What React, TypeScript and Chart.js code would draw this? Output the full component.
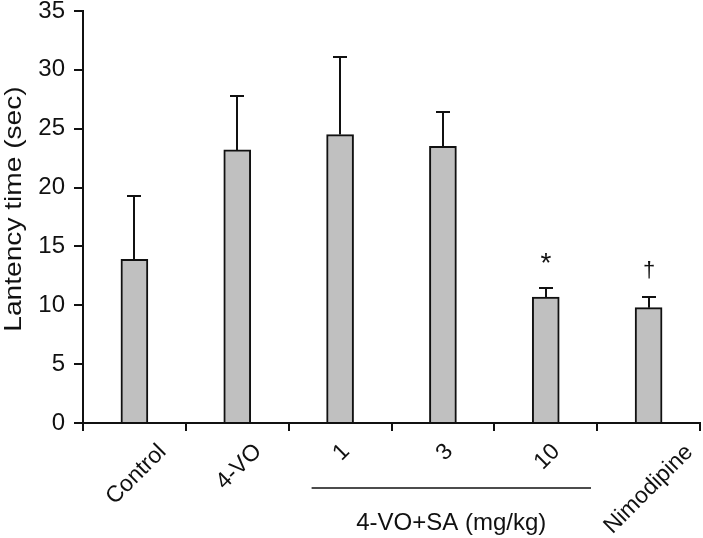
import React, { useEffect, useRef } from 'react';
import { Chart, registerables } from 'chart.js';

Chart.register(...registerables);

// ---- data ----
const categories = ['Control', '4-VO', '1', '3', '10', 'Nimodipine'];
const meanLatency = [13.9, 23.2, 24.5, 23.5, 10.7, 9.8];
const errorUpper = [5.4, 4.6, 6.6, 2.9, 0.8, 0.9];
const significance = ['', '', '', '', '*', '†'];
const groupLabel = '4-VO+SA (mg/kg)';
const groupStart = 2;
const groupEnd = 4;
const yMin = 0;
const yMax = 35;
const yStep = 5;
const yTitle = 'Lantency time (sec)';

const INK = '#111111';
const FONT = '"Liberation Sans", Arial, Helvetica, sans-serif';

const overlay = {
  id: 'overlay',
  afterDatasetsDraw(chart: any) {
    const ctx: CanvasRenderingContext2D = chart.ctx;
    const xs = chart.scales.x;
    const ys = chart.scales.y;
    const catW = xs.getPixelForValue(1) - xs.getPixelForValue(0);
    ctx.save();

    // error bars
    ctx.strokeStyle = INK;
    ctx.lineWidth = 2;
    meanLatency.forEach((m, i) => {
      const px = Math.round(xs.getPixelForValue(i));
      const y0 = ys.getPixelForValue(m);
      const y1 = Math.round(ys.getPixelForValue(m + errorUpper[i]));
      ctx.beginPath();
      ctx.moveTo(px, y0);
      ctx.lineTo(px, y1);
      ctx.moveTo(px - 7, y1);
      ctx.lineTo(px + 7, y1);
      ctx.stroke();

      const mark = significance[i];
      if (mark) {
        const isStar = mark === '*';
        ctx.font = `${isStar ? 28 : 22}px ${FONT}`;
        ctx.fillStyle = INK;
        ctx.textAlign = 'center';
        ctx.textBaseline = 'alphabetic';
        const mt = ctx.measureText(mark);
        const visCenter = y1 - (isStar ? 30 : 27);
        const base = visCenter + (mt.actualBoundingBoxAscent - mt.actualBoundingBoxDescent) / 2;
        ctx.fillText(mark, px, base);
      }
    });

    // x category labels, rotated 45°, bounding box centred on category
    ctx.font = `23px ${FONT}`;
    ctx.fillStyle = INK;
    ctx.textAlign = 'left';
    ctx.textBaseline = 'alphabetic';
    const topY = ys.bottom + 18;
    categories.forEach((lab, i) => {
      const px = xs.getPixelForValue(i);
      const mt = ctx.measureText(lab);
      const W = mt.actualBoundingBoxLeft + mt.actualBoundingBoxRight;
      const H = mt.actualBoundingBoxAscent + mt.actualBoundingBoxDescent;
      const half = (W + H) / (2 * Math.SQRT2);
      ctx.save();
      ctx.translate(px, topY + half);
      ctx.rotate(-Math.PI / 4);
      const cx0 = (mt.actualBoundingBoxRight - mt.actualBoundingBoxLeft) / 2;
      const cy0 = (mt.actualBoundingBoxDescent - mt.actualBoundingBoxAscent) / 2;
      ctx.fillText(lab, -cx0, -cy0);
      ctx.restore();
    });

    // group bracket and label
    const bx0 = xs.getPixelForValue(groupStart) - 0.277 * catW;
    const bx1 = xs.getPixelForValue(groupEnd) + 0.44 * catW;
    const by = ys.bottom + 65;
    ctx.lineWidth = 1.5;
    ctx.beginPath();
    ctx.moveTo(bx0, by);
    ctx.lineTo(bx1, by);
    ctx.stroke();
    ctx.font = `24px ${FONT}`;
    ctx.textAlign = 'center';
    ctx.textBaseline = 'alphabetic';
    ctx.fillText(groupLabel, (bx0 + bx1) / 2, ys.bottom + 107);

    // y axis title
    ctx.font = `24px ${FONT}`;
    ctx.textAlign = 'left';
    ctx.textBaseline = 'alphabetic';
    const mt = ctx.measureText(yTitle);
    const W = mt.actualBoundingBoxLeft + mt.actualBoundingBoxRight;
    const stretch = 243 / W;
    ctx.save();
    ctx.translate(14.5, (ys.top + ys.bottom) / 2 - 8);
    ctx.rotate(-Math.PI / 2);
    ctx.scale(stretch, 1);
    const cx0 = (mt.actualBoundingBoxRight - mt.actualBoundingBoxLeft) / 2;
    const cy0 = (mt.actualBoundingBoxDescent - mt.actualBoundingBoxAscent) / 2;
    ctx.fillText(yTitle, -cx0, -cy0);
    ctx.restore();

    ctx.restore();
  },
};

export default function App() {
  const ref = useRef<HTMLCanvasElement | null>(null);
  useEffect(() => {
    if (!ref.current) return;
    const chart = new Chart(ref.current, {
      type: 'bar',
      data: {
        labels: categories,
        datasets: [
          {
            data: meanLatency,
            backgroundColor: '#c0c0c0',
            borderColor: INK,
            borderWidth: 2,
            borderSkipped: 'bottom',
            barThickness: 27,
          },
        ],
      },
      options: {
        animation: false,
        responsive: false,
        devicePixelRatio: 1,
        layout: { padding: { top: 11, right: 3, left: 0, bottom: 0 } },
        plugins: { legend: { display: false }, tooltip: { enabled: false }, title: { display: false } },
        scales: {
          x: {
            offset: true,
            grid: {
              offset: true,
              drawOnChartArea: false,
              drawTicks: true,
              tickLength: 8,
              color: INK,
              lineWidth: 2,
            },
            border: { display: true, color: INK, width: 2 },
            ticks: { display: false },
            afterFit: (s: any) => {
              s.height = 115;
              s.paddingLeft = 0;
              s.paddingRight = 0;
            },
          },
          y: {
            min: yMin,
            max: yMax,
            grid: {
              drawOnChartArea: false,
              drawTicks: true,
              tickLength: 9,
              color: INK,
              lineWidth: 2,
            },
            border: { display: true, color: INK, width: 2 },
            ticks: {
              stepSize: yStep,
              padding: 9,
              color: INK,
              font: { family: FONT, size: 24 },
            },
            afterFit: (s: any) => {
              s.width = 83;
              s.paddingTop = 0;
              s.paddingBottom = 0;
            },
          },
        },
      },
      plugins: [overlay],
    });
    return () => chart.destroy();
  }, []);
  return (
    <div style={{ position: 'fixed', left: 0, top: 0, width: 703, height: 538, background: '#fff' }}>
      <canvas ref={ref} width={703} height={538} style={{ display: 'block' }} />
    </div>
  );
}
